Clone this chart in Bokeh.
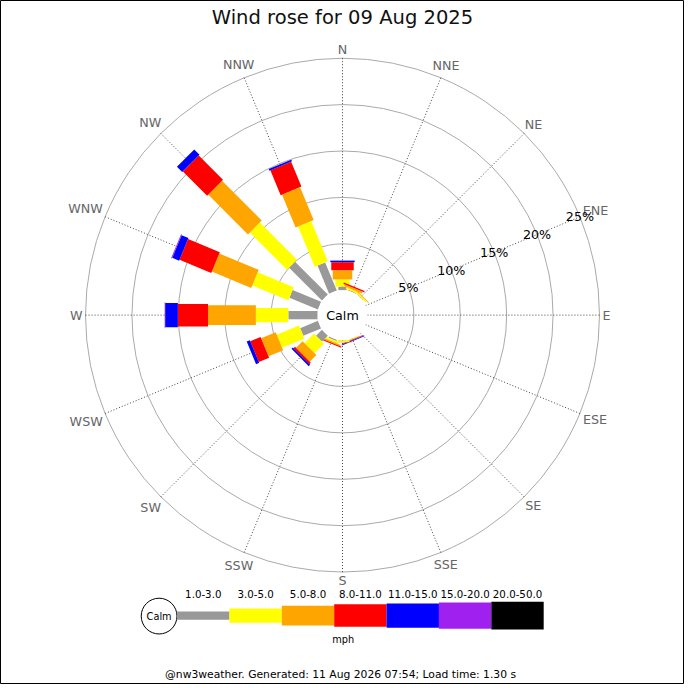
import math
from bokeh.plotting import figure
from bokeh.models import Range1d
from bokeh.embed import file_html
from bokeh.resources import INLINE
from bokeh.core.properties import value

# ---------------- data ----------------
directions = ["N", "NNE", "NE", "ENE", "E", "ESE", "SE", "SSE",
              "S", "SSW", "SW", "WSW", "W", "WNW", "NW", "NNW"]
speed_bins = ["1.0-3.0", "3.0-5.0", "5.0-8.0", "8.0-11.0",
              "11.0-15.0", "15.0-20.0", "20.0-50.0"]
bin_colors = ["#999999", "#ffff00", "#ffa500", "#ff0000",
              "#0000ff", "#a020f0", "#000000"]

# percentage of time per direction and speed class
freq_1_3   = [0.39, 0.08, 0.05, 0, 0, 0, 0, 0.03, 0.05, 0.15, 0.90, 2.07, 3.15, 3.32, 5.00, 3.28]
freq_3_5   = [0.77, 0.20, 0.15, 0, 0, 0, 0, 0.08, 0.15, 0.20, 1.45, 2.60, 3.50, 4.20, 5.67, 4.70]
freq_5_8   = [0.98, 0.20, 0.08, 0, 0, 0, 0, 0.05, 0.05, 0.15, 1.00, 1.70, 5.15, 4.60, 6.06, 3.82]
freq_8_11  = [0.88, 0.15, 0, 0, 0, 0, 0, 0.07, 0, 0.12, 0.22, 1.20, 3.25, 3.70, 3.69, 2.90]
freq_11_15 = [0.17, 0, 0, 0, 0, 0, 0, 0.08, 0, 0, 0.20, 0.37, 1.37, 0.80, 0.80, 0.20]
freq_15_20 = [0, 0, 0, 0, 0, 0, 0, 0, 0, 0, 0, 0, 0.05, 0.10, 0, 0]
freq_20_50 = [0] * 16
series = [freq_1_3, freq_3_5, freq_5_8, freq_8_11, freq_11_15, freq_15_20, freq_20_50]

ring_pcts = [5, 10, 15, 20, 25]
ring_labels = ["5%", "10%", "15%", "20%", "25%"]

title_text = "Wind rose for 09 Aug 2025"
unit_text = "mph"
footer_text = "@nw3weather. Generated: 11 Aug 2026 07:54; Load time: 1.30 s"

# ---------------- layout ----------------
FW, FH = 684, 684
REF = 700.0
S = FW / REF             # reference-pixel to screen-pixel factor
PX = 9.5                 # reference pixels per percent
CX, CY = 350.0, 322.0    # reference position of rose centre
CALM_R = 25.5 / PX
bar_px = [8.5, 14.5, 20.0, 23.0, 25.0, 26.7, 28.3]
FONT = value("DejaVu Sans")


def pg(X, Y):
    return (X - CX) / PX, (CY - Y) / PX


def fs(px):
    return "%.2fpx" % (px * S)


p = figure(width=FW, height=FH, output_backend="svg", toolbar_location=None,
           x_range=Range1d((0 - CX) / PX, (REF - CX) / PX),
           y_range=Range1d((CY - REF) / PX, (CY - 0) / PX),
           min_border=0)
p.axis.visible = False
p.grid.visible = False
p.outline_line_color = "black"
p.background_fill_color = "white"
p.border_fill_color = "white"

# rings
outer = CALM_R + ring_pcts[-1]
p.circle(x=[0] * len(ring_pcts), y=[0] * len(ring_pcts),
         radius=[CALM_R + r for r in ring_pcts],
         fill_color=None, line_color="#aaaaaa", line_width=1)

# spokes
angs = [math.radians(90 - i * 22.5) for i in range(len(directions))]
p.segment(x0=[CALM_R * math.cos(a) for a in angs], y0=[CALM_R * math.sin(a) for a in angs],
          x1=[outer * math.cos(a) for a in angs], y1=[outer * math.sin(a) for a in angs],
          line_color="#444444", line_width=1, line_dash="1 2")

# bars
bx, by, bw, bh, ba, bc = [], [], [], [], [], []
for i, a in enumerate(angs):
    r0 = CALM_R
    for k, s in enumerate(series):
        v = s[i]
        if v <= 0:
            continue
        r1 = r0 + v
        m = (r0 + r1) / 2
        bx.append(m * math.cos(a)); by.append(m * math.sin(a))
        bw.append(v); bh.append(bar_px[k] / PX); ba.append(a); bc.append(bin_colors[k])
        r0 = r1
p.rect(x=bx, y=by, width=bw, height=bh, angle=ba, fill_color=bc, line_color=None)

# calm circle
p.circle(x=[0], y=[0], radius=[CALM_R], fill_color="white", line_color=None)
p.text(x=[0], y=[0], text=["Calm"], text_font=FONT, text_font_size=fs(13),
       text_align="center", text_baseline="middle", text_color="black")

# direction labels
cw = {"N": 9.7, "E": 8.2, "S": 8.3, "W": 12.8}
lx, ly = [], []
for d, a in zip(directions, angs):
    w = sum(cw[c] for c in d)
    rp = 266 + (w / 2) * abs(math.cos(a)) + 6 * abs(math.sin(a))
    lx.append(rp / PX * math.cos(a)); ly.append(rp / PX * math.sin(a))
p.text(x=lx, y=ly, text=directions, text_font=FONT, text_font_size=fs(13),
       text_align="center", text_baseline="middle", text_color="#666666")

# ring percentage labels along ENE
la = math.radians(22.5)
p.text(x=[(CALM_R + r) * math.cos(la) for r in ring_pcts],
       y=[(CALM_R + r) * math.sin(la) for r in ring_pcts],
       text=ring_labels, text_font=FONT, text_font_size=fs(13),
       text_align="center", text_baseline="middle", text_color="black")

# title
tx, ty = pg(350, 17)
p.text(x=[tx], y=[ty], text=[title_text], text_font=FONT, text_font_size=fs(20),
       text_align="center", text_baseline="middle", text_color="#111111")

# legend
lcx, lcy = pg(162.3, 630)
p.circle(x=[lcx], y=[lcy], radius=[18.3 / PX], fill_color="white", line_color="black")
p.text(x=[lcx], y=[lcy], text=["Calm"], text_font=FONT, text_font_size=fs(10),
       text_align="center", text_baseline="middle", text_color="black")
seg = 53.6 / PX
x0, yc = pg(180.7, 629.5)
_, ylab = pg(0, 607)
p.rect(x=[x0 + (k + 0.5) * seg for k in range(len(speed_bins))], y=[yc] * len(speed_bins),
       width=[seg] * len(speed_bins), height=[h / PX for h in bar_px],
       fill_color=bin_colors, line_color=None)
p.text(x=[x0 + (k + 0.5) * seg for k in range(len(speed_bins))], y=[ylab] * len(speed_bins),
       text=speed_bins, text_font=FONT, text_font_size=fs(10.5),
       text_align="center", text_baseline="middle", text_color="black")
ux, uy = pg(350.7, 653.5)
p.text(x=[ux], y=[uy], text=[unit_text], text_font=FONT, text_font_size=fs(10),
       text_align="center", text_baseline="middle", text_color="black")

fx, fy = pg(348, 690)
p.text(x=[fx], y=[fy], text=[footer_text], text_font=FONT, text_font_size=fs(11),
       text_align="center", text_baseline="middle", text_color="black")

open("out.html", "w").write(file_html(p, INLINE))
